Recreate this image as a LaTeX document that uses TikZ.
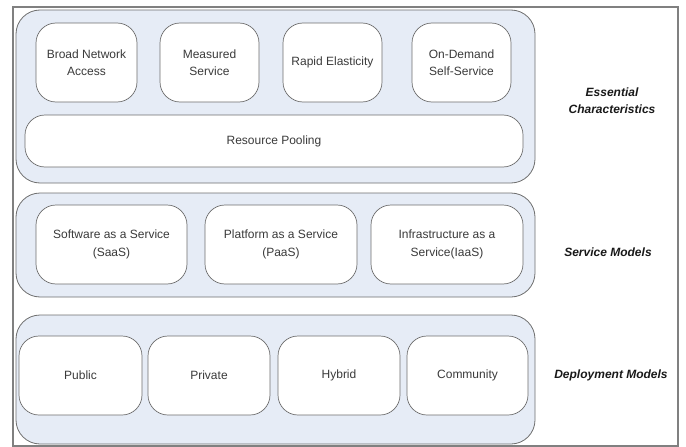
\documentclass[tikz,border=0pt]{standalone}
\usepackage{fontspec}
\setmainfont{Liberation Sans}
\definecolor{panelfill}{HTML}{E6ECF6}
\definecolor{linegray}{HTML}{6E6E6E}
\definecolor{textgray}{HTML}{3A3A3A}
\begin{document}
\begin{tikzpicture}[x=1pt,y=-1pt,
    panel/.style={draw=linegray,fill=panelfill,line width=0.8pt,rounded corners=24pt},
    item/.style={draw=linegray,fill=white,line width=0.7pt,rounded corners=20pt,
      minimum height=79pt,text=textgray,align=center,inner sep=2pt,
      font=\fontsize{12}{17.5}\selectfont},
    layer/.style={align=center,font=\fontsize{12}{17}\selectfont\bfseries\itshape,text=black!90}]
  \useasboundingbox (0,0) rectangle (686,447);
  \draw[draw=gray,line width=1.2pt] (13,7) rectangle (678,446);
  \draw
    (275.5,96.5) node[panel,minimum width=519pt,minimum height=173pt] (ess){}
    (275.5,245) node[panel,minimum width=519pt,minimum height=104pt] (svc){}
    (275.5,379.5) node[panel,minimum width=519pt,minimum height=129pt] (dep){};
  \draw
    (86.5,62.5) node[item,minimum width=101pt] (bna){Broad Network\\Access}
    (209.5,62.5) node[item,minimum width=99pt] (ms){Measured\\Service}
    (332.5,62.5) node[item,minimum width=99pt] (re){Rapid Elasticity}
    (461.5,62.5) node[item,minimum width=99pt] (ods){On-Demand\\Self-Service}
    (274,141) node[item,minimum width=498pt,minimum height=52pt] (rp){Resource Pooling};
  \draw
    (111.5,244.5) node[item,minimum width=151pt] (saas){Software as a Service\\(SaaS)}
    (281,244.5) node[item,minimum width=152pt] (paas){Platform as a Service\\(PaaS)}
    (447,244.5) node[item,minimum width=152pt] (iaas){Infrastructure as a\\Service(IaaS)};
  \draw
    (80.5,375.5) node[item,minimum width=123pt] (pub){Public}
    (209,375.5) node[item,minimum width=122pt] (priv){Private}
    (339,375.5) node[item,minimum width=122pt] (hyb){Hybrid}
    (467.5,375.5) node[item,minimum width=121pt] (comm){Community};
  \draw
    (612,101) node[layer] (lessential){Essential\\Characteristics}
    (608,252) node[layer] (lservice){Service Models}
    (611,375) node[layer] (ldeploy){Deployment Models};
\end{tikzpicture}
\end{document}
